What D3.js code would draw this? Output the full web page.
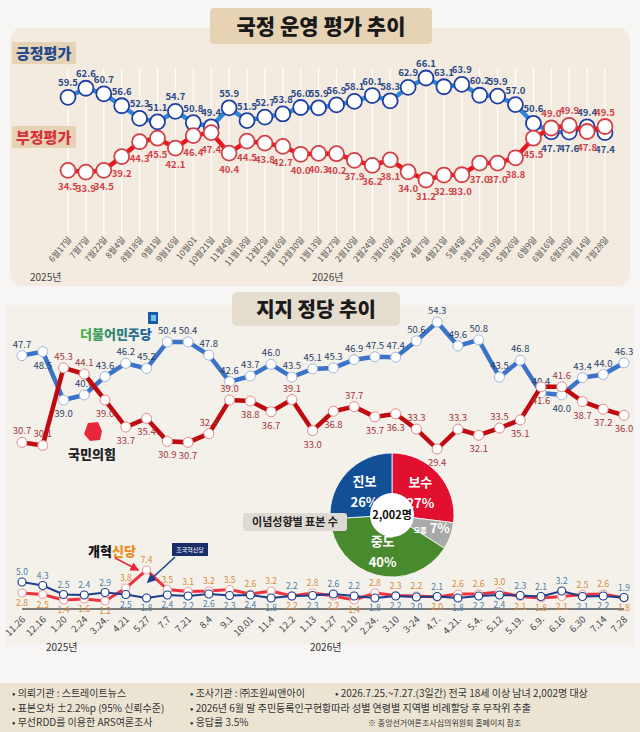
<!DOCTYPE html>
<html><head><meta charset="utf-8">
<script src="https://cdn.jsdelivr.net/npm/d3@7"></script>
<style>body{margin:0;background:#f7f6f4;font-family:"Noto Sans CJK KR","Noto Sans",sans-serif}</style>
</head><body><svg id="c" width="640" height="732"></svg>
<script>
const evalDates=["6월17일","7월7일","7월22일","8월4일","8월18일","9월1일","9월16일","10월01","10월21일","11월4일","11월18일","12월2일","12월16일","12월30일","1월13일","1월27일","2월10일","2월24일","3월10일","3월24일","4월7일","4월21일","5월4일","5월12일","5월19일","5월26일","6월9일","6월16일","6월30일","7월14일","7월28일"];
const positive=[59.5,62.6,60.7,56.6,52.3,51.1,54.7,50.8,49.4,55.9,51.5,52.7,53.8,56.0,55.9,56.9,58.1,60.1,58.3,62.9,66.1,63.1,63.9,60.2,59.9,57.0,50.6,47.7,47.6,49.4,47.4];
const negative=[34.5,33.9,34.5,39.2,44.3,45.5,42.1,46.4,47.4,40.4,44.5,43.8,42.7,40.0,40.3,40.2,37.9,36.2,38.1,34.0,31.2,32.9,33.0,37.0,37.0,38.8,45.5,49.0,49.9,47.8,49.5];
const partyDates=["11.26","12.16","1.20","2.24","3.24.","4.21","5.27","7.7","7.21","8.4","9.1","10.01","11.4","12.2","1.13","1.27","2.10","2.24.","3.10","3-24","4.7.","4.21.","5.4.","5.12","5.19.","6.9.","6.16","6.30","7.14","7.28"];
const democratic=[47.7,48.5,39.0,40.0,43.6,46.2,45.2,50.4,50.4,47.8,42.6,43.7,46.0,43.5,45.1,45.3,46.9,47.5,47.4,50.6,54.3,49.6,50.8,43.5,46.8,40.4,40.0,43.4,44.0,46.3];
const ppp=[30.7,30.1,45.3,44.1,39.0,33.7,35.4,30.9,30.7,32.4,39.0,38.8,36.7,39.1,33.0,36.8,37.7,35.7,36.3,33.3,29.4,33.3,32.1,33.5,35.1,41.6,41.6,38.7,37.2,36.0];
const rebuild=[5.0,4.3,2.5,2.4,2.9,2.5,1.8,2.4,2.2,2.6,2.3,2.4,1.8,2.2,2.3,2.6,2.2,1.8,2.2,2.0,2.1,1.8,2.2,2.4,2.3,2.1,3.2,2.1,2.2,1.9];
const reform=[2.8,2.5,1.4,1.6,1.2,3.8,7.4,3.5,3.1,3.2,3.5,2.6,3.2,2.2,2.8,2.2,1.4,2.8,2.3,2.2,2.0,2.6,2.6,3.0,2.1,1.8,2.1,2.5,2.6,1.8];
const ideology=[{k:"보수",v:27},{k:"모름",v:7},{k:"중도",v:40},{k:"진보",v:26}];
const ideologyColors=["#e0102e","#a9a9a9","#4a8a2e","#134f97"];
const footer=[["• 의뢰기관 : 스트레이트뉴스","• 조사기관 : ㈜조원씨앤아이","• 2026.7.25.~7.27.(3일간) 전국 18세 이상 남녀 2,002명 대상"],["• 표본오차 ±2.2%p (95% 신뢰수준)","• 2026년 6월 말 주민등록인구현황따라 성별 연령별 지역별 비례할당 후 무작위 추출",""],["• 무선RDD를 이용한 ARS여론조사","• 응답률 3.5%","※ 중앙선거여론조사심의위원회 홈페이지 참조"]];

// label placement exceptions (indices whose label flips side)
const posFlip=new Set([27,28,30]);
const negFlip=new Set([27,28,30]);
const demFlip=new Set([1,2,26]);
const pppFlip=new Set([0,1,2,3,9,10,13,16,19,21,23,26]);

const svg=d3.select("#c");
svg.append("rect").attr("width",640).attr("height",732).attr("fill","#f7f6f4");
svg.append("rect").attr("x",10).attr("y",28).attr("width",620).attr("height",258).attr("rx",12).attr("fill","#f3ebdf");
svg.append("rect").attr("x",210).attr("y",8).attr("width",222).attr("height",36).attr("rx",4).attr("fill","#e6d3b4");
svg.append("text").attr("x",321).attr("y",34).attr("text-anchor","middle").attr("font-size",21).attr("font-weight",900).attr("fill","#1a1a1a").text("국정 운영 평가 추이");
const x1=d3.scalePoint().domain(evalDates).range([68,605]);
const y1=d3.scaleLinear().domain([31.2,66.1]).range([180,78]);
svg.append("g").selectAll("line").data(evalDates).join("line").attr("x1",d=>x1(d)).attr("x2",d=>x1(d)).attr("y1",68).attr("y2",235).attr("stroke","#fff").attr("stroke-width",1.2);
svg.append("rect").attr("x",12).attr("y",42).attr("width",64).attr("height",22).attr("fill","#e6d3b4");
svg.append("text").attr("x",16).attr("y",59).attr("font-size",15).attr("font-weight",900).attr("fill","#25498f").text("긍정평가");
svg.append("rect").attr("x",12).attr("y",126).attr("width",64).attr("height",22).attr("fill","#e6d3b4");
svg.append("text").attr("x",16).attr("y",143).attr("font-size",15).attr("font-weight",900).attr("fill","#d8323a").text("부정평가");
function series1(vals,col,ring,lcol,above,flip){
  svg.append("path").datum(vals).attr("d",d3.line().x((d,i)=>x1(evalDates[i])).y(d=>y1(d))).attr("fill","none").attr("stroke",col).attr("stroke-width",4.5);
  svg.append("g").selectAll("circle").data(vals).join("circle").attr("cx",(d,i)=>x1(evalDates[i])).attr("cy",d=>y1(d)).attr("r",7.5).attr("fill","#fff").attr("stroke",ring).attr("stroke-width",1.8);
  svg.append("g").selectAll("text").data(vals).join("text").attr("x",(d,i)=>x1(evalDates[i])).attr("y",(d,i)=>y1(d)+((above!==flip.has(i))?-11:20)).attr("text-anchor","middle").attr("font-size",9.5).attr("font-weight",600).attr("fill",lcol).text(d=>d.toFixed(1));
}
series1(positive,"#2f86d2","#1f3fa6","#2b4a86",true,posFlip);
series1(negative,"#e8171d","#d34045","#d04048",false,negFlip);
svg.append("g").selectAll("text").data(evalDates).join("text").attr("transform",d=>`translate(${x1(d)+4},${240}) rotate(-50)`).attr("text-anchor","end").attr("font-size",8.5).attr("fill","#555").text(d=>d);
svg.append("text").attr("x",30).attr("y",281).attr("font-size",10).attr("fill","#444").text("2025년");
svg.append("text").attr("x",312).attr("y",281).attr("font-size",10).attr("fill","#444").text("2026년");

svg.append("rect").attr("x",6).attr("y",305).attr("width",628).attr("height",340).attr("fill","#f4f1eb");
svg.append("rect").attr("x",232).attr("y",292).attr("width",168).attr("height",34).attr("rx",5).attr("fill","#e4ddd0");
svg.append("text").attr("x",316).attr("y",317).attr("text-anchor","middle").attr("font-size",20).attr("font-weight",900).attr("fill","#1a1a1a").text("지지 정당 추이");
const x2=d3.scalePoint().domain(partyDates.map((d,i)=>i)).range([22,624]);
const y2=d3.scaleLinear().domain([29.4,54.3]).range([449,322]);
function series2(vals,col,lcol,above,flip){
  svg.append("path").datum(vals).attr("d",d3.line().x((d,i)=>x2(i)).y(d=>y2(d))).attr("fill","none").attr("stroke",col).attr("stroke-width",4.5);
  svg.append("g").selectAll("circle").data(vals).join("circle").attr("cx",(d,i)=>x2(i)).attr("cy",d=>y2(d)).attr("r",5).attr("fill","#fff").attr("stroke",above?"#9fb7d8":"#d88").attr("stroke-width",1);
  svg.append("g").selectAll("text").data(vals).join("text").attr("x",(d,i)=>x2(i)).attr("y",(d,i)=>y2(d)+((above!==flip.has(i))?-8:17)).attr("text-anchor","middle").attr("font-size",9.5).attr("fill",lcol).text(d=>d.toFixed(1));
}
series2(democratic,"#3b73c9","#2c3f66",true,demFlip);
series2(ppp,"#c00a0f","#a3353a",false,pppFlip);
svg.append("rect").attr("x",148).attr("y",312).attr("width",10).attr("height",12).attr("fill","#1a5aa8");
svg.append("rect").attr("x",151).attr("y",315).attr("width",5).attr("height",6).attr("fill","#6fc4e8");
const dg=svg.append("defs").append("linearGradient").attr("id","dg");
dg.append("stop").attr("offset","0").attr("stop-color","#4bb543");dg.append("stop").attr("offset","1").attr("stop-color","#1a5aa8");
svg.append("text").attr("x",80).attr("y",339).attr("font-size",13).attr("font-weight",900).attr("fill","url(#dg)").text("더불어민주당");
svg.append("path").attr("d","M88,423 L98,422 L102,431 L100,440 L90,441 L84,434 Z").attr("fill","#e8283a");
svg.append("text").attr("x",68).attr("y",459).attr("font-size",13).attr("font-weight",900).attr("fill","#222").text("국민의힘");
const pie=d3.pie().sort(null).value(d=>d.v)(ideology);
const arc=d3.arc().innerRadius(0).outerRadius(62);
const pg=svg.append("g").attr("transform","translate(392,515)");
pg.selectAll("path").data(pie).join("path").attr("d",arc).attr("fill",(d,i)=>ideologyColors[i]).attr("stroke","#fff").attr("stroke-width",0.8);
const la=d3.arc().innerRadius(36).outerRadius(36);
pg.selectAll("text.k").data(pie).join("text").attr("text-anchor","middle").attr("fill","#fff").attr("font-weight",600)
 .each(function(d){const c=la.centroid(d);const t=d3.select(this);
   if(d.data.k==="모름"){t.attr("x",c[0]+6).attr("y",c[1]+6).attr("font-size",13).html(`<tspan font-size="7">모름</tspan> ${d.data.v}%`);}
   else{t.attr("x",c[0]*1.05).attr("y",c[1]-4).attr("font-size",13).html(`<tspan>${d.data.k}</tspan><tspan x="${c[0]*1.05}" dy="21">${d.data.v}%</tspan>`);}});
pg.append("circle").attr("r",22).attr("fill","#fff");
pg.append("text").attr("y",4).attr("text-anchor","middle").attr("font-size",11).attr("font-weight",600).attr("fill","#111").text("2,002명");
svg.append("rect").attr("x",243).attr("y",513).attr("width",104).attr("height",18).attr("rx",3).attr("fill","#dedad3");
svg.append("text").attr("x",295).attr("y",526).attr("text-anchor","middle").attr("font-size",11).attr("font-weight",600).attr("fill","#222").text("이념성향별 표본 수");

const y3=d3.scaleLinear().domain([0,7.4]).range([607,570]);
svg.append("line").attr("x1",22).attr("x2",624).attr("y1",609).attr("y2",609).attr("stroke","#555").attr("stroke-width",1.5);
function series3(vals,col,ring,lcol,above){
  svg.append("path").datum(vals).attr("d",d3.line().x((d,i)=>x2(i)).y(d=>y3(d))).attr("fill","none").attr("stroke",col).attr("stroke-width",above?2:3);
  svg.append("g").selectAll("circle").data(vals).join("circle").attr("cx",(d,i)=>x2(i)).attr("cy",d=>y3(d)).attr("r",4).attr("fill","#fff").attr("stroke",ring).attr("stroke-width",1.2);
  svg.append("g").selectAll("text").data(vals).join("text").attr("x",(d,i)=>x2(i)).attr("y",(d,i)=>{const o=above?(d>=reform[i]):(d>rebuild[i]);return y3(d)+(o?-7:13);}).attr("text-anchor","middle").attr("font-size",8.5).attr("fill",lcol).text(d=>d.toFixed(1));
}
series3(reform,"#ee3340","#f0a0a0","#d8893a",false);
series3(rebuild,"#1d3e8a","#1d3e8a","#4a7fa8",true);
svg.append("text").attr("x",88).attr("y",556).attr("font-size",13).attr("font-weight",900).attr("fill","#111").html('개혁<tspan fill="#f08a1c">신당</tspan>');
svg.append("defs").html('<marker id="ar" markerWidth="6" markerHeight="6" refX="5" refY="3" orient="auto"><path d="M0,0 L6,3 L0,6 Z" fill="#e8283a"/></marker><marker id="ab" markerWidth="6" markerHeight="6" refX="5" refY="3" orient="auto"><path d="M0,0 L6,3 L0,6 Z" fill="#1d3e8a"/></marker>');
svg.append("line").attr("x1",115).attr("y1",558).attr("x2",138).attr("y2",570).attr("stroke","#e8283a").attr("stroke-width",1.5).attr("marker-end","url(#ar)");
svg.append("line").attr("x1",175).attr("y1",557).attr("x2",148).attr("y2",582).attr("stroke","#1d3e8a").attr("stroke-width",1.5).attr("marker-end","url(#ab)");
svg.append("rect").attr("x",172).attr("y",543).attr("width",36).attr("height",13).attr("fill","#1a2f6a");
svg.append("text").attr("x",190).attr("y",552).attr("text-anchor","middle").attr("font-size",6).attr("fill","#fff").text("조국혁신당");
svg.append("g").selectAll("text").data(partyDates).join("text").attr("transform",(d,i)=>`translate(${x2(i)+4},${620}) rotate(-45)`).attr("text-anchor","end").attr("font-size",9.5).attr("fill","#444").text(d=>d);
svg.append("text").attr("x",46).attr("y",651).attr("font-size",10).attr("fill","#333").text("2025년");
svg.append("text").attr("x",310).attr("y",651).attr("font-size",10).attr("fill","#333").text("2026년");
svg.append("rect").attr("x",0).attr("y",683).attr("width",640).attr("height",49).attr("fill","#ece4d3");
const fx=[12,190,335];
footer.forEach((row,r)=>row.forEach((t,c)=>{ if(!t)return;
  let x=fx[c]; if(r===2&&c===2)x=368;
  svg.append("text").attr("x",x).attr("y",697+r*14.5).attr("font-size",r===2&&c===2?8:10).attr("fill","#333").text(t);}));
</script></body></html>
